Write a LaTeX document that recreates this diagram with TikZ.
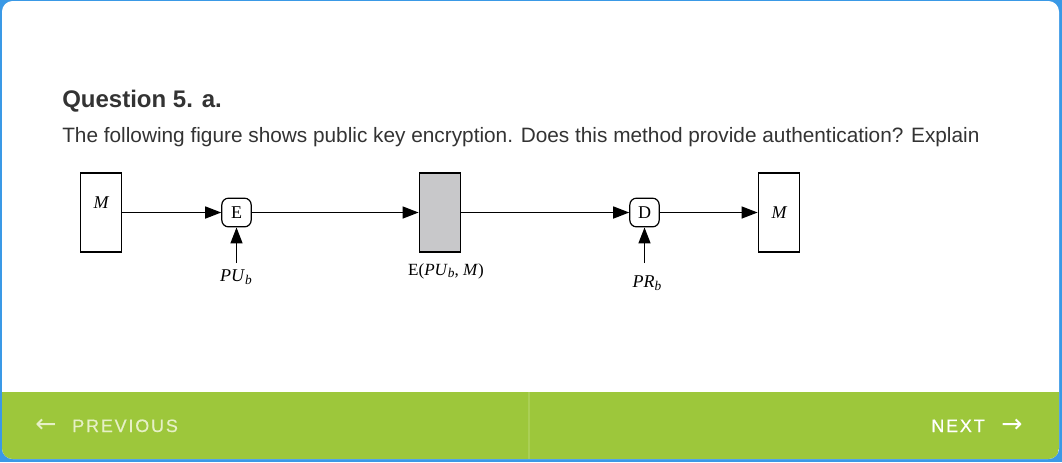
\documentclass[tikz,border=0pt]{standalone}
\usepackage{fontspec}
\setmainfont{Liberation Sans}
\newfontfamily\diagfont{Liberation Serif}
\newfontfamily\navfont[LetterSpace=10,FakeBold=0.5]{Liberation Sans}
\newfontfamily\arrowfont{DejaVu Sans}
\usetikzlibrary{arrows.meta}
\definecolor{frameblue}{HTML}{3A99E6}
\definecolor{navgreen}{HTML}{9DC73B}
\definecolor{divgreen}{HTML}{AACF55}
\definecolor{paletext}{HTML}{E6F0C6}
\definecolor{txt}{HTML}{333333}
\definecolor{cipher}{HTML}{C8C8CA}
\newcommand{\dfont}{\diagfont\fontsize{13.5}{15}\selectfont}
\newcommand{\ksub}[2]{\textit{#1}\raisebox{-0.35ex}{\fontsize{10}{11}\selectfont\textit{#2}}}
\tikzset{
  msgbox/.style={draw, line width=1.1pt, minimum width=31pt, minimum height=59pt, inner sep=0pt},
  opbox/.style={draw, line width=0.9pt, rounded corners=5pt, minimum width=22pt, minimum height=21.5pt, inner sep=0pt, font=\dfont},
  lbl/.style={font=\dfont, inner sep=0pt},
  flow/.style={line width=1.1pt, -{Triangle[length=12pt,width=9pt]}},
}
\begin{document}
\begin{tikzpicture}[x=0.75pt,y=-0.75pt]
\useasboundingbox (0,0) rectangle (1062,462);
% frame
\fill[frameblue] (0,0) rectangle (1062,462);
\fill[white, rounded corners=8pt] (2,1) rectangle (1059,459);
\begin{scope}
  \clip[rounded corners=8pt] (2,1) rectangle (1059,459);
  \fill[navgreen] (2,392) rectangle (1059,459);
\end{scope}
\draw[divgreen, line width=0.8pt] (529,392) -- (529,459);
% texts
\node[anchor=base west, inner sep=0pt, text=txt, font=\bfseries\fontsize{18}{20}\selectfont] (title) at (62,107) {Question 5. a.};
\node[anchor=base west, inner sep=0pt, text=txt, font=\fontsize{15.6}{18}\selectfont] (body) at (62,142) {The following figure shows public key encryption. Does this method provide authentication? Explain};
% diagram
\node[msgbox] (m1) at (101,212.5) {};
\node[lbl, font=\dfont\itshape] (m1t) at (101,203) {M};
\node[opbox] (enc) at (236.5,212.5) {E};
\node[msgbox, fill=cipher] (c) at (440,212.5) {};
\node[opbox] (dec) at (644.5,212.5) {D};
\node[msgbox, font=\dfont\itshape] (m2) at (779,212.5) {M};
\node[lbl] (pub) at (236,277) {\ksub{PU}{b}};
\node[lbl, font=\diagfont\fontsize{12.8}{14}\selectfont] (ct) at (446,271) {E(\ksub{PU}{b}, \textit{M})};
\coordinate (prs) at (644.5,263);
\node[lbl] (prb) at (647,283) {\ksub{PR}{b}};
\coordinate (pus) at (236.5,263);
\draw[flow] (m1.east) -- (enc.west);
\draw[flow] (enc.east) -- (c.west);
\draw[flow] (c.east) -- (dec.west);
\draw[flow] (dec.east) -- (m2.west);
\draw[flow] (pus) -- (enc.south);
\draw[flow] (prs) -- (dec.south);
% nav
\node[anchor=base west, inner sep=0pt, text=paletext, font=\arrowfont\fontsize{19}{20}\selectfont] (larr) at (35,432) {←};
\node[anchor=base west, inner sep=0pt, text=paletext, font=\navfont\fontsize{13.5}{16}\selectfont] (prev) at (72,432) {PREVIOUS};
\node[anchor=base west, inner sep=0pt, text=white, font=\navfont\fontsize{13.5}{16}\selectfont] (next) at (931,432) {NEXT};
\node[anchor=base west, inner sep=0pt, text=white, font=\arrowfont\fontsize{19}{20}\selectfont] (rarr) at (1001,432) {→};
\end{tikzpicture}
\end{document}
